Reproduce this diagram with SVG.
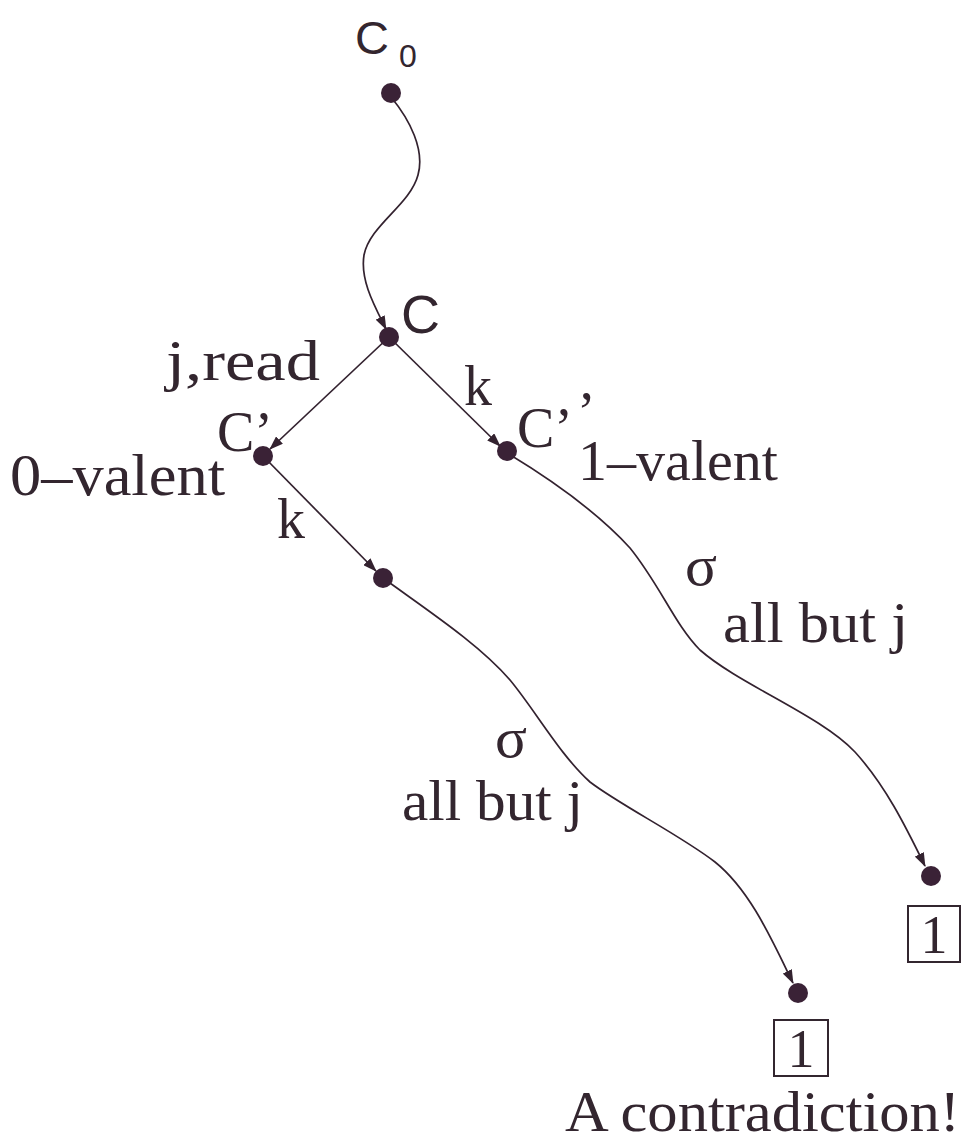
<svg xmlns="http://www.w3.org/2000/svg" width="968" height="1142" viewBox="0 0 968 1142">
<style>
  .edge { fill: none; stroke: #33222f; stroke-width: 1.7; marker-end: url(#arr); }
  .dot { fill: #3a2236; }
  .serif { font-family: "Liberation Serif", "Times New Roman", serif; fill: #33262f; }
  .sans { font-family: "Liberation Sans", Arial, sans-serif; fill: #33262f; }
  .box { fill: none; stroke: #33262f; stroke-width: 2; }
</style>
<defs>
  <marker id="arr" markerUnits="userSpaceOnUse" markerWidth="14" markerHeight="10" refX="13" refY="5" orient="auto">
    <path d="M0,0 L14,5 L0,10 z" fill="#33222f"/>
  </marker>
</defs>
<rect width="968" height="1142" fill="#ffffff"/>

<g id="connectors">
  <path class="edge" d="M391,97 C410,120 425,150 418,175 C410,205 370,225 364,255 C360,280 374,305 386,329"/>
  <path class="edge" d="M389,337 L270,449"/>
  <path class="edge" d="M389,337 L500,446"/>
  <path class="edge" d="M263,456 L376,571"/>
  <path class="edge" d="M507,453 C560,485 600,515 630,548 C660,585 675,625 700,650 C740,685 820,715 855,752 C885,785 905,825 925,866"/>
  <path class="edge" d="M383,578 C430,612 480,645 510,680 C535,710 560,755 590,782 C620,805 680,835 715,862 C750,890 772,940 793,983"/>
</g>

<g id="node-C0">
  <circle class="dot" cx="391" cy="93" r="10"/>
  <text class="sans" x="355" y="54" font-size="47">C</text>
  <text class="sans" x="399" y="67" font-size="32">0</text>
</g>
<g id="node-C">
  <circle class="dot" cx="389" cy="337" r="10"/>
  <text class="sans" x="401" y="333" font-size="54">C</text>
</g>
<g id="node-Cprime">
  <circle class="dot" cx="263" cy="456" r="10"/>
  <text class="serif" x="217" y="451" font-size="56">C’</text>
  <text class="serif" x="10" y="495" font-size="60" textLength="215" lengthAdjust="spacingAndGlyphs">0–valent</text>
</g>
<g id="node-Cdprime">
  <circle class="dot" cx="507" cy="451" r="10"/>
  <text class="serif" x="517" y="447" font-size="56">C’</text>
  <text class="serif" x="577" y="431" font-size="56">’</text>
  <text class="serif" x="578" y="480" font-size="58" textLength="200" lengthAdjust="spacingAndGlyphs">1–valent</text>
</g>
<g id="node-mid">
  <circle class="dot" cx="383" cy="578" r="10"/>
</g>
<g id="node-end1">
  <circle class="dot" cx="931" cy="876" r="10"/>
  <rect class="box" x="908" y="906" width="52" height="56"/>
  <text class="serif" x="934" y="953" font-size="54" text-anchor="middle">1</text>
</g>
<g id="node-end2">
  <circle class="dot" cx="798" cy="993" r="10"/>
  <rect class="box" x="774" y="1020" width="54" height="56"/>
  <text class="serif" x="801" y="1067" font-size="54" text-anchor="middle">1</text>
  <text class="serif" x="565" y="1131" font-size="58" textLength="395" lengthAdjust="spacingAndGlyphs">A contradiction!</text>
</g>

<g id="labels">
  <text class="serif" x="166" y="380" font-size="58" textLength="154" lengthAdjust="spacingAndGlyphs">j,read</text>
  <text class="serif" x="464" y="405" font-size="56">k</text>
  <text class="serif" x="277" y="538" font-size="56">k</text>
  <text class="serif" x="685" y="585" font-size="58" textLength="32" lengthAdjust="spacingAndGlyphs">σ</text>
  <text class="serif" x="723" y="642" font-size="58" textLength="185" lengthAdjust="spacingAndGlyphs">all but j</text>
  <text class="serif" x="495" y="757" font-size="58" textLength="32" lengthAdjust="spacingAndGlyphs">σ</text>
  <text class="serif" x="402" y="820" font-size="58" textLength="181" lengthAdjust="spacingAndGlyphs">all but j</text>
</g>
</svg>
